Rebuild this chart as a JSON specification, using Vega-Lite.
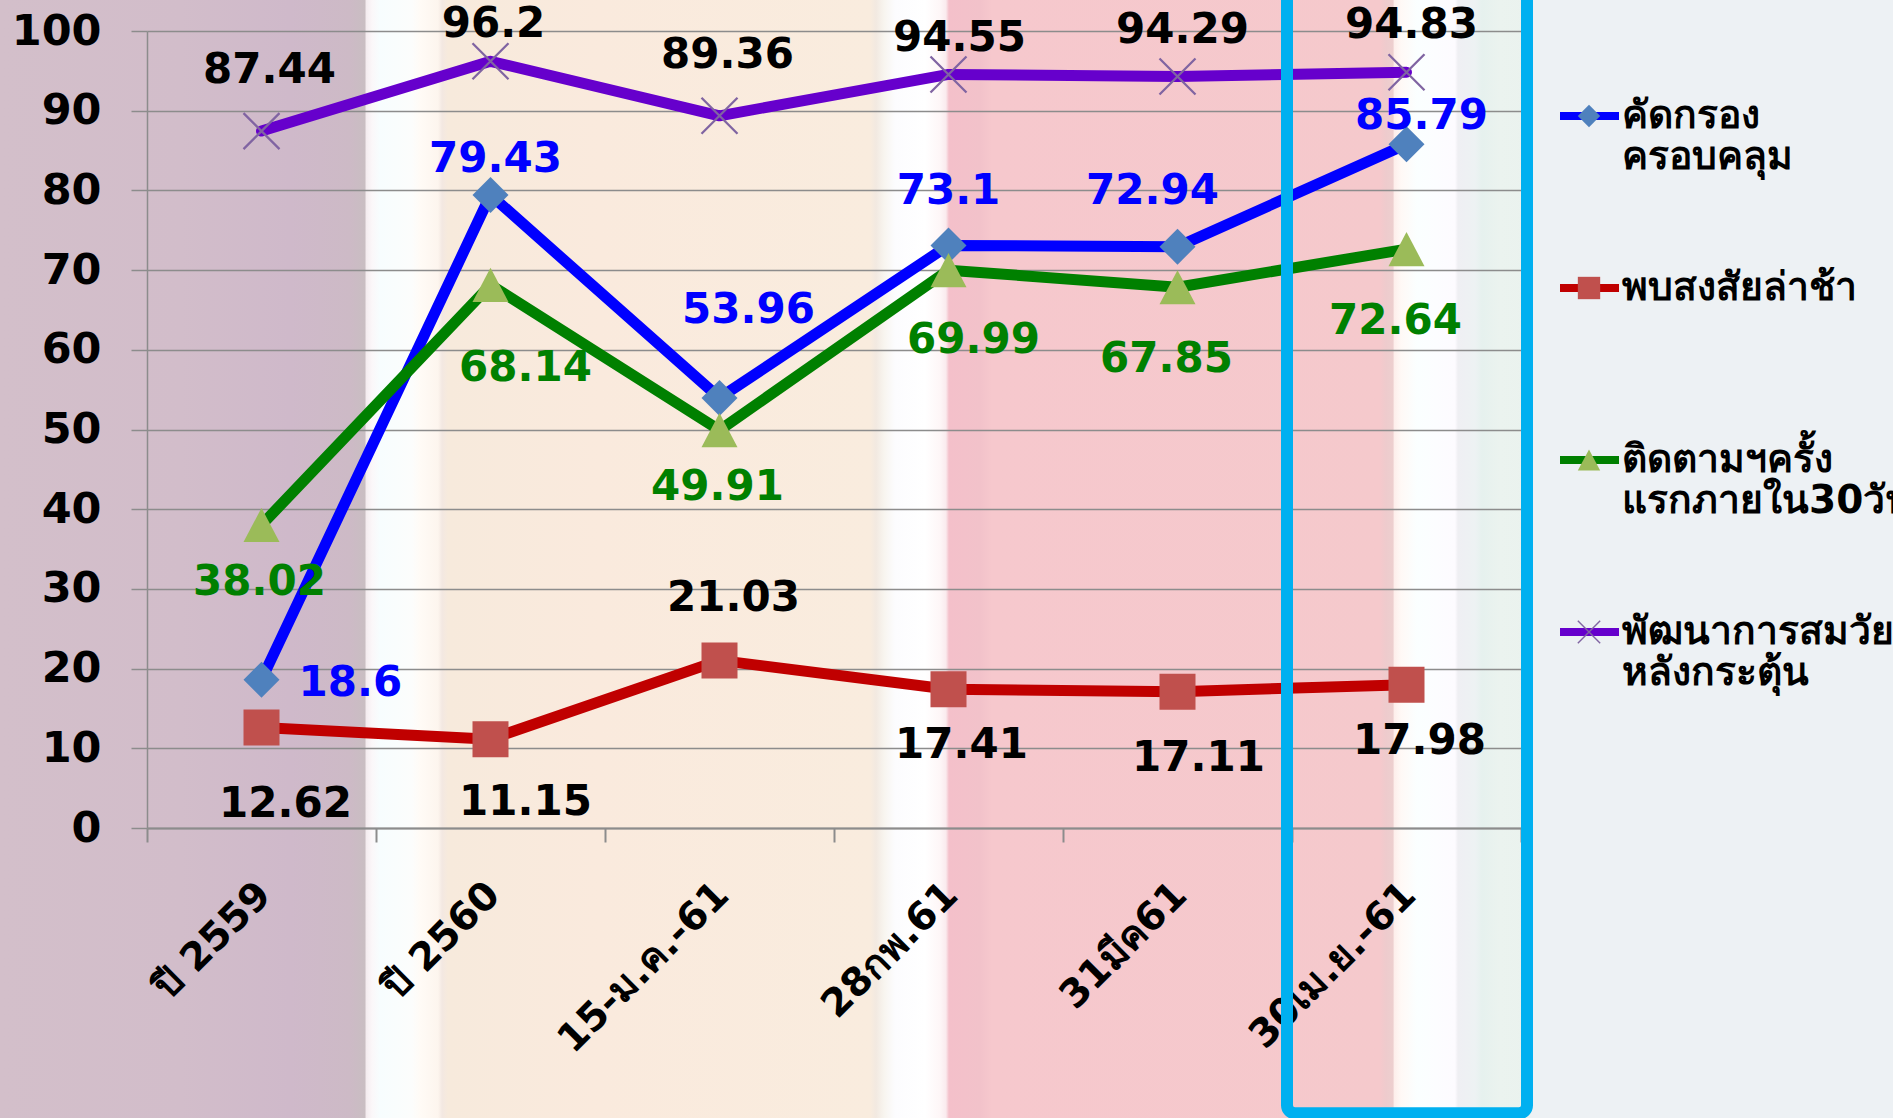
{
  "$schema": "https://vega.github.io/schema/vega-lite/v6.json",
  "width": 1893,
  "height": 1118,
  "autosize": {"type": "none"},
  "padding": 0,
  "background": "#EDF1F4",
  "view": {
    "stroke": null,
    "fill": {
      "gradient": "linear", "x1": 0, "x2": 1, "y1": 0, "y2": 0,
      "stops": [
        {"offset": 0, "color": "#D3BFCA"},
        {"offset": 0.0951, "color": "#D2BDCA"},
        {"offset": 0.1532, "color": "#CFB9CA"},
        {"offset": 0.1849, "color": "#CDBAC6"},
        {"offset": 0.1928, "color": "#C9BEC2"},
        {"offset": 0.1934, "color": "#F4ECEF"},
        {"offset": 0.1965, "color": "#FBF7F9"},
        {"offset": 0.2007, "color": "#F7FDFE"},
        {"offset": 0.2176, "color": "#FCFDFC"},
        {"offset": 0.2219, "color": "#FFFBF6"},
        {"offset": 0.2314, "color": "#FDF5EE"},
        {"offset": 0.2335, "color": "#F3E8E2"},
        {"offset": 0.2367, "color": "#F7EADC"},
        {"offset": 0.3170, "color": "#FAEADD"},
        {"offset": 0.4596, "color": "#F9ECDE"},
        {"offset": 0.4628, "color": "#F2E9E1"},
        {"offset": 0.4670, "color": "#F8F5EF"},
        {"offset": 0.4728, "color": "#FCFCFE"},
        {"offset": 0.4886, "color": "#FFFFFF"},
        {"offset": 0.4966, "color": "#FEF6F7"},
        {"offset": 0.4997, "color": "#FAEBEE"},
        {"offset": 0.5013, "color": "#F4C0CA"},
        {"offset": 0.5177, "color": "#F2C2CA"},
        {"offset": 0.5240, "color": "#F6C8CD"},
        {"offset": 0.7290, "color": "#F5C9CC"},
        {"offset": 0.7322, "color": "#EECBCD"},
        {"offset": 0.7359, "color": "#EDCFCF"},
        {"offset": 0.7365, "color": "#FDEEEB"},
        {"offset": 0.7401, "color": "#FFF9F6"},
        {"offset": 0.7485, "color": "#FBFFFF"},
        {"offset": 0.7686, "color": "#FDFBFF"},
        {"offset": 0.7702, "color": "#EFEFF3"},
        {"offset": 0.7792, "color": "#EDF2F3"},
        {"offset": 0.7829, "color": "#E6F1EE"},
        {"offset": 0.7924, "color": "#EBF3EF"},
        {"offset": 0.8082, "color": "#EAF2EE"},
        {"offset": 0.8088, "color": "#EDF1F4"},
        {"offset": 1, "color": "#EDF1F4"}
      ]
    }
  },
  "config": {"font": "DejaVu Sans", "text": {"font": "DejaVu Sans", "fontWeight": "bold", "fontSize": 42, "baseline": "middle"}},
  "data": {
    "values": [
      {"cat": "ปี 2559", "series": "คัดกรองครอบคลุม", "value": 18.6},
      {"cat": "ปี 2560", "series": "คัดกรองครอบคลุม", "value": 79.43},
      {"cat": "15-ม.ค.-61", "series": "คัดกรองครอบคลุม", "value": 53.96},
      {"cat": "28กพ.61", "series": "คัดกรองครอบคลุม", "value": 73.1},
      {"cat": "31มีค61", "series": "คัดกรองครอบคลุม", "value": 72.94},
      {"cat": "30เม.ย.-61", "series": "คัดกรองครอบคลุม", "value": 85.79},
      {"cat": "ปี 2559", "series": "พบสงสัยล่าช้า", "value": 12.62},
      {"cat": "ปี 2560", "series": "พบสงสัยล่าช้า", "value": 11.15},
      {"cat": "15-ม.ค.-61", "series": "พบสงสัยล่าช้า", "value": 21.03},
      {"cat": "28กพ.61", "series": "พบสงสัยล่าช้า", "value": 17.41},
      {"cat": "31มีค61", "series": "พบสงสัยล่าช้า", "value": 17.11},
      {"cat": "30เม.ย.-61", "series": "พบสงสัยล่าช้า", "value": 17.98},
      {"cat": "ปี 2559", "series": "ติดตามฯครั้งแรกภายใน30วัน", "value": 38.02},
      {"cat": "ปี 2560", "series": "ติดตามฯครั้งแรกภายใน30วัน", "value": 68.14},
      {"cat": "15-ม.ค.-61", "series": "ติดตามฯครั้งแรกภายใน30วัน", "value": 49.91},
      {"cat": "28กพ.61", "series": "ติดตามฯครั้งแรกภายใน30วัน", "value": 69.99},
      {"cat": "31มีค61", "series": "ติดตามฯครั้งแรกภายใน30วัน", "value": 67.85},
      {"cat": "30เม.ย.-61", "series": "ติดตามฯครั้งแรกภายใน30วัน", "value": 72.64},
      {"cat": "ปี 2559", "series": "พัฒนาการสมวัยหลังกระตุ้น", "value": 87.44},
      {"cat": "ปี 2560", "series": "พัฒนาการสมวัยหลังกระตุ้น", "value": 96.2},
      {"cat": "15-ม.ค.-61", "series": "พัฒนาการสมวัยหลังกระตุ้น", "value": 89.36},
      {"cat": "28กพ.61", "series": "พัฒนาการสมวัยหลังกระตุ้น", "value": 94.55},
      {"cat": "31มีค61", "series": "พัฒนาการสมวัยหลังกระตุ้น", "value": 94.29},
      {"cat": "30เม.ย.-61", "series": "พัฒนาการสมวัยหลังกระตุ้น", "value": 94.83}
    ]
  },
  "layer": [
    {
      "mark": {"type": "line", "strokeWidth": 11, "strokeCap": "round", "strokeJoin": "round"},
      "encoding": {
        "x": {
          "field": "cat", "type": "nominal",
          "scale": {"type": "band", "domain": ["ปี 2559", "ปี 2560", "15-ม.ค.-61", "28กพ.61", "31มีค61", "30เม.ย.-61"], "range": [147, 1521], "paddingInner": 0, "paddingOuter": 0},
          "axis": {
            "title": null, "offset": -290, "labelAngle": -45, "labelAlign": "right", "labelBaseline": "top",
            "labelFont": "DejaVu Sans", "labelFontSize": 39, "labelFontWeight": "bold", "labelColor": "#000000",
            "labelPadding": 33, "labelOffset": -11, "labelLimit": 500, "labelOverlap": false,
            "tickBand": "extent", "tickSize": 14, "tickColor": "#8C8C8C", "tickWidth": 2,
            "domainColor": "#8C8C8C", "domainWidth": 2, "grid": false
          }
        },
        "y": {
          "field": "value", "type": "quantitative",
          "scale": {"domain": [0, 100], "range": [828, 31], "nice": false, "zero": false},
          "axis": {
            "title": null, "values": [0, 10, 20, 30, 40, 50, 60, 70, 80, 90, 100], "offset": -147,
            "grid": true, "gridColor": "#8C8C8C", "gridWidth": 1.5,
            "tickColor": "#8C8C8C", "tickWidth": 1.5, "tickSize": 16,
            "domainColor": "#8C8C8C", "domainWidth": 1.5,
            "labelFont": "DejaVu Sans", "labelFontSize": 43, "labelFontWeight": "bold", "labelColor": "#000000", "labelPadding": 30
          }
        },
        "stroke": {
          "field": "series", "type": "nominal",
          "scale": {"domain": ["คัดกรองครอบคลุม", "พบสงสัยล่าช้า", "ติดตามฯครั้งแรกภายใน30วัน", "พัฒนาการสมวัยหลังกระตุ้น"], "range": ["#0000FF", "#C00000", "#008000", "#6600CC"]},
          "legend": {
            "orient": "none", "legendX": 1556, "legendY": 30, "title": null, "padding": 0, "rowPadding": 0, "clipHeight": 172,
            "symbolType": "stroke", "symbolSize": 3481, "symbolStrokeWidth": 8, "symbolOpacity": 1,
            "labelFont": "DejaVu Sans", "labelFontWeight": "bold", "labelFontSize": 39, "labelLineHeight": 45,
            "labelColor": "#000000", "labelLimit": 500, "labelOffset": -1, "zindex": 0,
            "labelExpr": "datum.label == 'คัดกรองครอบคลุม' ? ['คัดกรอง', 'ครอบคลุม'] : datum.label == 'ติดตามฯครั้งแรกภายใน30วัน' ? ['ติดตามฯครั้ง', 'แรกภายใน30วัน'] : datum.label == 'พัฒนาการสมวัยหลังกระตุ้น' ? ['พัฒนาการสมวัย', 'หลังกระตุ้น'] : datum.label"
          }
        }
      }
    },
    {
      "mark": {"type": "point", "filled": true, "size": 1296, "strokeWidth": 0, "opacity": 1},
      "encoding": {
        "x": {"field": "cat", "type": "nominal"},
        "y": {"field": "value", "type": "quantitative"},
        "shape": {
          "field": "series", "type": "nominal", "sort": null,
          "scale": {"range": ["diamond", "square", "M0,-0.95L1,0.95L-1,0.95Z", "M-0.955,-1.045L1.045,0.955L0.955,1.045L-1.045,-0.955Z M-1.045,0.955L0.955,-1.045L1.045,-0.955L-0.955,1.045Z"]},
          "legend": {
            "orient": "none", "legendX": 1556, "legendY": 30, "title": null, "padding": 0, "rowPadding": 0, "clipHeight": 172,
            "symbolSize": 500, "symbolOffset": 18, "symbolStrokeWidth": 0, "symbolOpacity": 1,
            "labelFontSize": 30, "labelOpacity": 0, "labelLimit": 500, "zindex": 1
          }
        },
        "fill": {
          "field": "series", "type": "nominal", "sort": null,
          "scale": {"range": ["#4F81BD", "#C0504D", "#9BBB59", "#8064A2"]},
          "legend": {
            "orient": "none", "legendX": 1556, "legendY": 30, "title": null, "padding": 0, "rowPadding": 0, "clipHeight": 172,
            "symbolSize": 500, "symbolOffset": 18, "symbolStrokeWidth": 0, "symbolOpacity": 1,
            "labelFontSize": 30, "labelOpacity": 0, "labelLimit": 500, "zindex": 1
          }
        }
      }
    },
    {
      "transform": [{"filter": "datum.series == 'พัฒนาการสมวัยหลังกระตุ้น' && (datum.cat == 'ปี 2559' || datum.cat == '15-ม.ค.-61')"}],
      "mark": {"type": "text", "color": "#000000", "dy": -61, "dx": 8},
      "encoding": {"x": {"field": "cat", "type": "nominal"}, "y": {"field": "value", "type": "quantitative"}, "text": {"field": "value", "type": "nominal"}}
    },
    {
      "transform": [{"filter": "datum.series == 'พัฒนาการสมวัยหลังกระตุ้น' && datum.cat == 'ปี 2560'"}],
      "mark": {"type": "text", "color": "#000000", "dy": -37, "dx": 3},
      "encoding": {"x": {"field": "cat", "type": "nominal"}, "y": {"field": "value", "type": "quantitative"}, "text": {"field": "value", "type": "nominal"}}
    },
    {
      "transform": [{"filter": "datum.series == 'พัฒนาการสมวัยหลังกระตุ้น' && datum.cat == '28กพ.61'"}],
      "mark": {"type": "text", "color": "#000000", "dy": -36, "dx": 11},
      "encoding": {"x": {"field": "cat", "type": "nominal"}, "y": {"field": "value", "type": "quantitative"}, "text": {"field": "value", "type": "nominal"}}
    },
    {
      "transform": [{"filter": "datum.series == 'พัฒนาการสมวัยหลังกระตุ้น' && (datum.cat == '31มีค61' || datum.cat == '30เม.ย.-61')"}],
      "mark": {"type": "text", "color": "#000000", "dy": -47, "dx": 5},
      "encoding": {"x": {"field": "cat", "type": "nominal"}, "y": {"field": "value", "type": "quantitative"}, "text": {"field": "value", "type": "nominal"}}
    },
    {
      "transform": [{"filter": "datum.series == 'คัดกรองครอบคลุม' && datum.cat == 'ปี 2560'"}],
      "mark": {"type": "text", "color": "#0000FF", "dy": -36, "dx": 5},
      "encoding": {"x": {"field": "cat", "type": "nominal"}, "y": {"field": "value", "type": "quantitative"}, "text": {"field": "value", "type": "nominal"}}
    },
    {
      "transform": [{"filter": "datum.series == 'คัดกรองครอบคลุม' && datum.cat == '28กพ.61'"}],
      "mark": {"type": "text", "color": "#0000FF", "dy": -54, "dx": 0},
      "encoding": {"x": {"field": "cat", "type": "nominal"}, "y": {"field": "value", "type": "quantitative"}, "text": {"field": "value", "type": "nominal"}}
    },
    {
      "transform": [{"filter": "datum.series == 'คัดกรองครอบคลุม' && datum.cat == '31มีค61'"}],
      "mark": {"type": "text", "color": "#0000FF", "dy": -56, "dx": -25},
      "encoding": {"x": {"field": "cat", "type": "nominal"}, "y": {"field": "value", "type": "quantitative"}, "text": {"field": "value", "type": "nominal"}}
    },
    {
      "transform": [{"filter": "datum.series == 'คัดกรองครอบคลุม' && datum.cat == '15-ม.ค.-61'"}],
      "mark": {"type": "text", "color": "#0000FF", "dy": -88, "dx": 29},
      "encoding": {"x": {"field": "cat", "type": "nominal"}, "y": {"field": "value", "type": "quantitative"}, "text": {"field": "value", "type": "nominal"}}
    },
    {
      "transform": [{"filter": "datum.series == 'คัดกรองครอบคลุม' && datum.cat == '30เม.ย.-61'"}],
      "mark": {"type": "text", "color": "#0000FF", "dy": -28, "dx": 15},
      "encoding": {"x": {"field": "cat", "type": "nominal"}, "y": {"field": "value", "type": "quantitative"}, "text": {"field": "value", "type": "nominal"}}
    },
    {
      "transform": [{"filter": "datum.series == 'คัดกรองครอบคลุม' && datum.cat == 'ปี 2559'"}],
      "mark": {"type": "text", "color": "#0000FF", "dy": 3, "dx": 37, "align": "left"},
      "encoding": {"x": {"field": "cat", "type": "nominal"}, "y": {"field": "value", "type": "quantitative"}, "text": {"field": "value", "type": "nominal"}}
    },
    {
      "transform": [{"filter": "datum.series == 'ติดตามฯครั้งแรกภายใน30วัน' && (datum.cat == 'ปี 2559' || datum.cat == '15-ม.ค.-61')"}],
      "mark": {"type": "text", "color": "#008000", "dy": 57, "dx": -2},
      "encoding": {"x": {"field": "cat", "type": "nominal"}, "y": {"field": "value", "type": "quantitative"}, "text": {"field": "value", "type": "nominal"}}
    },
    {
      "transform": [{"filter": "datum.series == 'ติดตามฯครั้งแรกภายใน30วัน' && datum.cat == 'ปี 2560'"}],
      "mark": {"type": "text", "color": "#008000", "dy": 83, "dx": 35},
      "encoding": {"x": {"field": "cat", "type": "nominal"}, "y": {"field": "value", "type": "quantitative"}, "text": {"field": "value", "type": "nominal"}}
    },
    {
      "transform": [{"filter": "datum.series == 'ติดตามฯครั้งแรกภายใน30วัน' && datum.cat == '28กพ.61'"}],
      "mark": {"type": "text", "color": "#008000", "dy": 70, "dx": 25},
      "encoding": {"x": {"field": "cat", "type": "nominal"}, "y": {"field": "value", "type": "quantitative"}, "text": {"field": "value", "type": "nominal"}}
    },
    {
      "transform": [{"filter": "datum.series == 'ติดตามฯครั้งแรกภายใน30วัน' && (datum.cat == '31มีค61' || datum.cat == '30เม.ย.-61')"}],
      "mark": {"type": "text", "color": "#008000", "dy": 72, "dx": -11},
      "encoding": {"x": {"field": "cat", "type": "nominal"}, "y": {"field": "value", "type": "quantitative"}, "text": {"field": "value", "type": "nominal"}}
    },
    {
      "transform": [{"filter": "datum.series == 'พบสงสัยล่าช้า' && datum.cat == 'ปี 2559'"}],
      "mark": {"type": "text", "color": "#000000", "dy": 77, "dx": 24},
      "encoding": {"x": {"field": "cat", "type": "nominal"}, "y": {"field": "value", "type": "quantitative"}, "text": {"field": "value", "type": "nominal"}}
    },
    {
      "transform": [{"filter": "datum.series == 'พบสงสัยล่าช้า' && datum.cat == 'ปี 2560'"}],
      "mark": {"type": "text", "color": "#000000", "dy": 63, "dx": 35},
      "encoding": {"x": {"field": "cat", "type": "nominal"}, "y": {"field": "value", "type": "quantitative"}, "text": {"field": "value", "type": "nominal"}}
    },
    {
      "transform": [{"filter": "datum.series == 'พบสงสัยล่าช้า' && datum.cat == '15-ม.ค.-61'"}],
      "mark": {"type": "text", "color": "#000000", "dy": -62, "dx": 14},
      "encoding": {"x": {"field": "cat", "type": "nominal"}, "y": {"field": "value", "type": "quantitative"}, "text": {"field": "value", "type": "nominal"}}
    },
    {
      "transform": [{"filter": "datum.series == 'พบสงสัยล่าช้า' && (datum.cat == '28กพ.61' || datum.cat == '30เม.ย.-61')"}],
      "mark": {"type": "text", "color": "#000000", "dy": 56, "dx": 13},
      "encoding": {"x": {"field": "cat", "type": "nominal"}, "y": {"field": "value", "type": "quantitative"}, "text": {"field": "value", "type": "nominal"}}
    },
    {
      "transform": [{"filter": "datum.series == 'พบสงสัยล่าช้า' && datum.cat == '31มีค61'"}],
      "mark": {"type": "text", "color": "#000000", "dy": 66, "dx": 21},
      "encoding": {"x": {"field": "cat", "type": "nominal"}, "y": {"field": "value", "type": "quantitative"}, "text": {"field": "value", "type": "nominal"}}
    },
    {
      "data": {"values": [{}]},
      "mark": {"type": "rect", "fill": "transparent", "stroke": "#00B0F0", "strokeWidth": 12, "cornerRadius": 8, "xOffset": -5, "x2Offset": 6},
      "encoding": {
        "x": {"datum": "30เม.ย.-61", "type": "nominal", "bandPosition": 0},
        "x2": {"datum": "30เม.ย.-61", "bandPosition": 1},
        "y": {"datum": 106, "type": "quantitative"},
        "y2": {"datum": -35.8}
      }
    }
  ]
}
